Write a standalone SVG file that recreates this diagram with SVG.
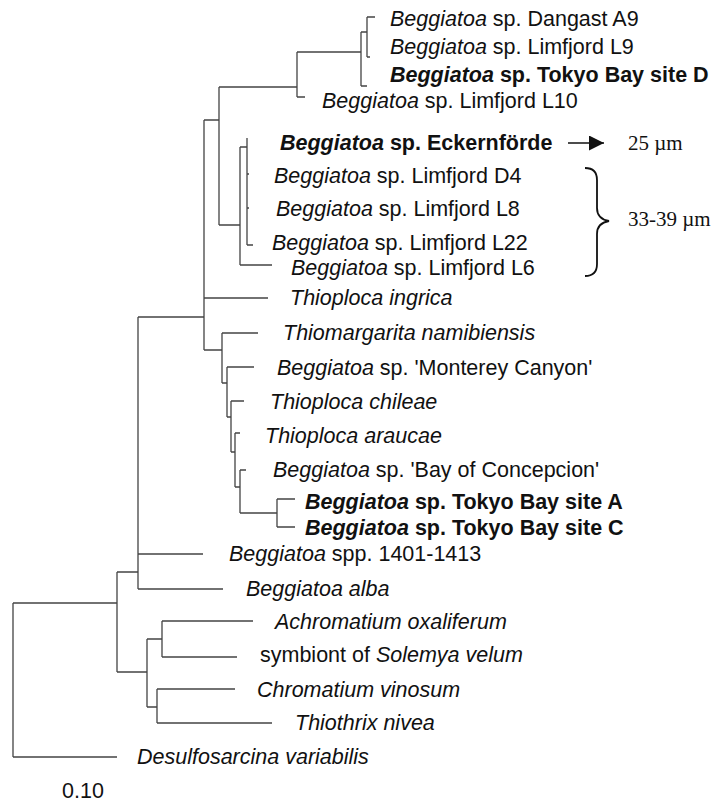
<svg xmlns="http://www.w3.org/2000/svg" width="715" height="804" viewBox="0 0 715 804">
<style>
.t{font-family:"Liberation Sans",Arial,sans-serif;font-size:21.5px;fill:#111}
.i{font-style:italic}
.b{font-weight:bold}
.s{font-family:"Liberation Serif","Times New Roman",serif;font-size:21px;fill:#111}
.e{stroke:#444;stroke-width:1.3;fill:none}
</style>
<defs>
<marker id="ah" viewBox="0 0 10 10" refX="10" refY="5" markerWidth="20" markerHeight="15" markerUnits="userSpaceOnUse" orient="auto"><path d="M0 0 L10 5 L0 10 Z" fill="#111"/></marker>
</defs>
<rect width="715" height="804" fill="#fff"/>
<g id="connectors">
<path class="e" d="M13 603 V757 M13 603 H117 M13 757 H117"/>
<path class="e" d="M117 572 V672 M117 572 H138 M117 672 H147"/>
<path class="e" d="M138 317 V589 M138 317 H204 M138 554 H203 M138 589 H223"/>
<path class="e" d="M204 120 V350 M204 120 H219 M204 298 H268 M204 350 H222"/>
<path class="e" d="M219 87 V225 M219 87 H297 M219 225 H240"/>
<path class="e" d="M297 52 V97 M297 52 H361 M297 97 H305"/>
<path class="e" d="M361 32 V86 M361 32 H367 M361 86 H367"/>
<path class="e" d="M367 17 V57 M367 17 H375 M367 57 H370"/>
<path class="e" d="M240 147 V265 M240 147 H247 M240 265 H272"/>
<path class="e" d="M247 138 V245 M247 174 H249 M247 208 H249 M247 245 H253"/>
<path class="e" d="M222 333 V383 M222 333 H258 M222 383 H227"/>
<path class="e" d="M227 367 V417 M227 367 H254 M227 417 H231"/>
<path class="e" d="M231 401 V452 M231 401 H244 M231 452 H235"/>
<path class="e" d="M235 433 V487 M235 433 H240 M235 487 H240"/>
<path class="e" d="M240 470 V513 M240 470 H246 M240 513 H277"/>
<path class="e" d="M277 499 V527 M277 499 H295 M277 527 H295"/>
<path class="e" d="M147 639 V707 M147 639 H162 M147 707 H157"/>
<path class="e" d="M162 621 V657 M162 621 H253 M162 657 H237"/>
<path class="e" d="M157 689 V723 M157 689 H235 M157 723 H272"/>
<path d="M568 143 H604" stroke="#111" stroke-width="1.6" fill="none" marker-end="url(#ah)"/>
<path d="M585 168 Q597 168 597 180 V208 Q597 219 609 221 Q597 223 597 234 V264 Q597 276 585 276" stroke="#111" stroke-width="1.8" fill="none"/>
</g>
<g id="dangast"><text class="t" x="390" y="26"><tspan class="i">Beggiatoa</tspan> sp. Dangast A9</text></g>
<g id="limfjord-l9"><text class="t" x="390" y="54"><tspan class="i">Beggiatoa</tspan> sp. Limfjord L9</text></g>
<g id="tokyo-d"><text class="t b" x="390" y="82"><tspan class="i">Beggiatoa</tspan> sp. Tokyo Bay site D</text></g>
<g id="limfjord-l10"><text class="t" x="322" y="108"><tspan class="i">Beggiatoa</tspan> sp. Limfjord L10</text></g>
<g id="eckernforde"><text class="t b" x="280" y="150"><tspan class="i">Beggiatoa</tspan> sp. Eckernförde</text></g>
<g id="size-25"><text class="s" x="628" y="150">25 µm</text></g>
<g id="limfjord-d4"><text class="t" x="274" y="183"><tspan class="i">Beggiatoa</tspan> sp. Limfjord D4</text></g>
<g id="limfjord-l8"><text class="t" x="276" y="216"><tspan class="i">Beggiatoa</tspan> sp. Limfjord L8</text></g>
<g id="limfjord-l22"><text class="t" x="272" y="250"><tspan class="i">Beggiatoa</tspan> sp. Limfjord L22</text></g>
<g id="limfjord-l6"><text class="t" x="291" y="275"><tspan class="i">Beggiatoa</tspan> sp. Limfjord L6</text></g>
<g id="size-33"><text class="s" x="628" y="226">33-39 µm</text></g>
<g id="thioploca-ingrica"><text class="t i" x="290" y="305">Thioploca ingrica</text></g>
<g id="thiomargarita"><text class="t i" x="283" y="340">Thiomargarita namibiensis</text></g>
<g id="monterey"><text class="t" x="277" y="375"><tspan class="i">Beggiatoa</tspan> sp. 'Monterey Canyon'</text></g>
<g id="thioploca-chileae"><text class="t i" x="270" y="409">Thioploca chileae</text></g>
<g id="thioploca-araucae"><text class="t i" x="265" y="443">Thioploca araucae</text></g>
<g id="concepcion"><text class="t" x="273" y="477"><tspan class="i">Beggiatoa</tspan> sp. 'Bay of Concepcion'</text></g>
<g id="tokyo-a"><text class="t b" x="305" y="509"><tspan class="i">Beggiatoa</tspan> sp. Tokyo Bay site A</text></g>
<g id="tokyo-c"><text class="t b" x="305" y="535"><tspan class="i">Beggiatoa</tspan> sp. Tokyo Bay site C</text></g>
<g id="spp-1401"><text class="t" x="229" y="561"><tspan class="i">Beggiatoa</tspan> spp. 1401-1413</text></g>
<g id="alba"><text class="t i" x="246" y="596">Beggiatoa alba</text></g>
<g id="achromatium"><text class="t i" x="275" y="629">Achromatium oxaliferum</text></g>
<g id="symbiont"><text class="t" x="260" y="662">symbiont of <tspan class="i">Solemya velum</tspan></text></g>
<g id="chromatium"><text class="t i" x="257" y="697">Chromatium vinosum</text></g>
<g id="thiothrix"><text class="t i" x="295" y="730">Thiothrix nivea</text></g>
<g id="desulfosarcina"><text class="t i" x="137" y="764">Desulfosarcina variabilis</text></g>
<g id="scale"><text class="t" x="62" y="798">0.10</text></g>
</svg>
